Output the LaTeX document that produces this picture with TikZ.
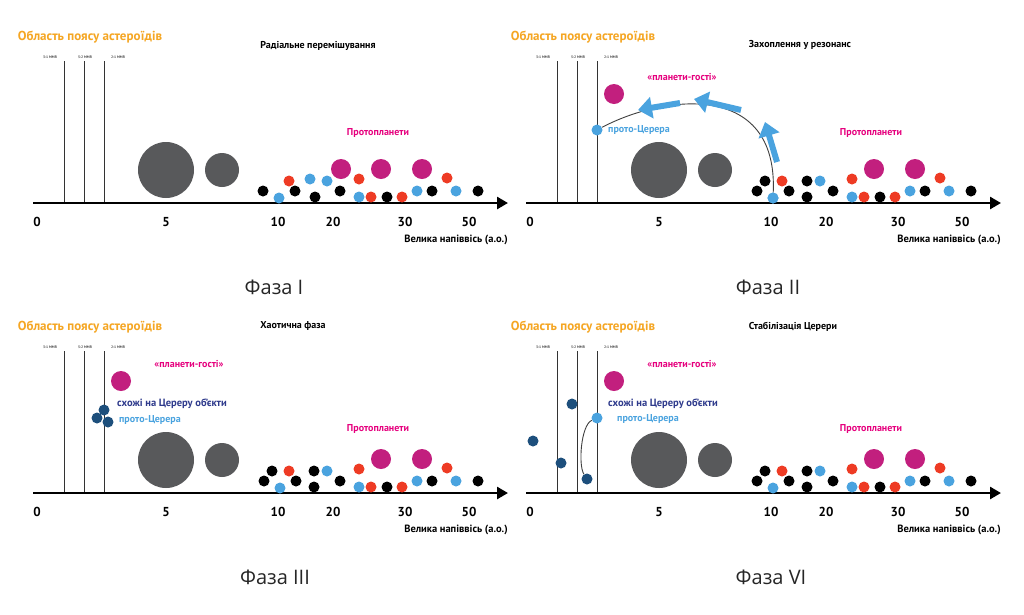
\documentclass[tikz,border=0pt]{standalone}
\usepackage{fontspec}
\setmainfont{PT Sans}
\newfontfamily\phasefont{Open Sans}
\usetikzlibrary{arrows.meta}

\definecolor{beltorange}{HTML}{F5A623}
\definecolor{planetgrey}{HTML}{58595B}
\definecolor{protomag}{HTML}{C21F7E}
\definecolor{labelmag}{HTML}{E6007E}
\definecolor{dotred}{HTML}{EE3B24}
\definecolor{dotblue}{HTML}{4AA3DF}
\definecolor{cerdark}{HTML}{1D4F7C}
\definecolor{cerlabel}{HTML}{2E3A8C}

\begin{document}
\begin{tikzpicture}[
    % pixel grid, y pointing down
    x=1pt, y=-1pt,
    belt/.style={font=\bfseries\fontsize{13}{15}\selectfont, text=beltorange},
    stagetitle/.style={font=\bfseries\fontsize{10}{12}\selectfont},
    mmr/.style={font=\bfseries\fontsize{3.6}{4}\selectfont, text=black!70},
    tick/.style={font=\bfseries\fontsize{13}{15}\selectfont},
    axislabel/.style={font=\bfseries\fontsize{10.5}{12}\selectfont},
    pinklabel/.style={font=\bfseries\fontsize{10}{12}\selectfont, text=labelmag},
    cereslabel/.style={font=\bfseries\fontsize{10}{12}\selectfont, text=dotblue},
    likelabel/.style={font=\bfseries\fontsize{10.5}{12}\selectfont, text=cerlabel},
    phase/.style={font=\phasefont\fontsize{20}{24}\selectfont, text=black!85},
    ball/.style={circle, fill=#1, inner sep=0pt, minimum size=11pt},
    resline/.style={black!80, line width=1pt},
    axisline/.style={line width=2.6pt, -{Triangle[length=11pt,width=12pt]}},
    track/.style={black!75, line width=0.9pt},
    flow/.style={dotblue, line width=6pt, -{Triangle[length=14pt,width=21pt]}}
]
    \fill[white] (0,0) rectangle (1024,614);
    \useasboundingbox (0,0) rectangle (1024,614);

    % Common parts of the four panels
    \foreach \dx/\dy/\ph/\phx/\ttl/\tx/\ty/\py in {
        0/0/I/274/Радіальне перемішування/318/46/133,
        493/0/II/275/Захоплення у резонанс/307/45/133,
        0/290/III/275/Хаотична фаза/293/36/139,
        493/290/VI/278/Стабілізація Церери/300/37/139} {
    \begin{scope}[shift={(\dx,\dy)}]
        \node[belt] (belt\ph) at (90,37) {Область поясу астероїдів};
        \node[stagetitle] (title\ph) at (\tx,\ty) {\ttl};

        % Resonances
        \foreach \lx in {64,84,104} {
            \draw[resline] (\lx,61) -- (\lx,203);
        }
        \node[mmr] (mmrA\ph) at (50,57) {3:1 MMR};
        \node[mmr] (mmrB\ph) at (85,57) {5:2 MMR};
        \node[mmr] (mmrC\ph) at (118,57) {2:1 MMR};

        % Giant planets
        \fill[planetgrey] (166,170) circle (28);
        \fill[planetgrey] (222,170) circle (17);

        % Axis
        \draw[axisline] (33,203) -- (508,203);
        \foreach \x/\val in {37/0, 166/5, 278/10, 333/20, 405/30, 469/50} {
            \node[tick] at (\x,222) {\val};
        }
        \node[axislabel] (axis\ph) at (456,240) {Велика напіввісь (а.о.)};

        % Planetesimals shared by all panels
        \foreach \x/\y/\c in {327/181/dotblue, 340/191/black, 359/179/dotred,
            359/197/dotblue, 371/197/dotred, 387/197/black, 402/197/dotred,
            417/191/dotblue, 432/191/black, 447/178/dotred, 456/191/dotblue,
            478/191/black} {
            \fill[\c] (\x,\y) circle (5.5);
        }

        % Protoplanets
        \node[pinklabel] (proto\ph) at (378,\py) {Протопланети};
        \fill[protomag] (381,169) circle (10);
        \fill[protomag] (422,169) circle (10);

        \node[phase] (phase\ph) at (\phx,287) {Фаза \ph};
    \end{scope}
    }

    % Phase I
    \foreach \x/\y/\c in {263/191/black, 279/198/dotblue, 289/181/dotred,
        295/191/black, 310/179/dotblue, 315/197/black} {
        \fill[\c] (\x,\y) circle (5.5);
    }
    \fill[protomag] (341,169) circle (10);

    % Phases II, III and VI
    \foreach \dx/\dy/\gy in {493/0/94, 0/290/91, 493/290/91} {
    \begin{scope}[shift={(\dx,\dy)}]
        \foreach \x/\y/\c in {264/191/black, 272/181/black, 280/198/dotblue,
            289/181/dotred, 296/191/black, 314/181/black, 314/197/black} {
            \fill[\c] (\x,\y) circle (5.5);
        }
        \fill[protomag] (121,\gy) circle (10);
        \node[pinklabel] at (189,\gy-17) {«планети-гості»};
    \end{scope}
    }

    % Phase II: capture into resonance
    \begin{scope}[shift={(493,0)}]
        \node[ball=dotblue] (ceresII) at (104,130) {};
        \node[ball=dotblue] (startII) at (280,198) {};
        \node[cereslabel] (ceresIIlab) at (146,130) {прото-Церера};
        \draw[track] (ceresII) .. controls (170,95) and (285,80) .. (startII);
        \coordinate (a1s) at (284,162);
        \coordinate (a1e) at (272,122);
        \coordinate (a2s) at (248,110);
        \coordinate (a2e) at (201,99);
        \coordinate (a3s) at (187,103);
        \coordinate (a3e) at (145,110);
        \draw[flow] (a1s) -- (a1e);
        \draw[flow] (a2s) -- (a2e);
        \draw[flow] (a3s) -- (a3e);
    \end{scope}

    % Phase III: chaotic phase
    \begin{scope}[shift={(0,290)}]
        \node[ball=cerdark] (likeIIIa) at (104,120) {};
        \node[ball=cerdark] (likeIIIb) at (97,128) {};
        \node[ball=cerdark] (likeIIIc) at (108,132) {};
        \node[likelabel] (likeIIIlab) at (172,114) {схожі на Цереру об’єкти};
        \node[cereslabel] (ceresIIIlab) at (150,130) {прото-Церера};
    \end{scope}

    % Phase VI: Ceres stabilised
    \begin{scope}[shift={(493,290)}]
        \node[ball=cerdark] (likeVIa) at (79,114) {};
        \node[ball=cerdark] (likeVIb) at (40,151) {};
        \node[ball=cerdark] (likeVIc) at (68,173) {};
        \node[ball=cerdark] (likeVId) at (94,189) {};
        \node[ball=dotblue] (ceresVI) at (104,128) {};
        \draw[track] (ceresVI) .. controls (88,135) and (85,175) .. (likeVId);
        \node[likelabel] (likeVIlab) at (170,114) {схожі на Цереру об’єкти};
        \node[cereslabel] (ceresVIlab) at (155,129) {прото-Церера};
    \end{scope}
\end{tikzpicture}
\end{document}
